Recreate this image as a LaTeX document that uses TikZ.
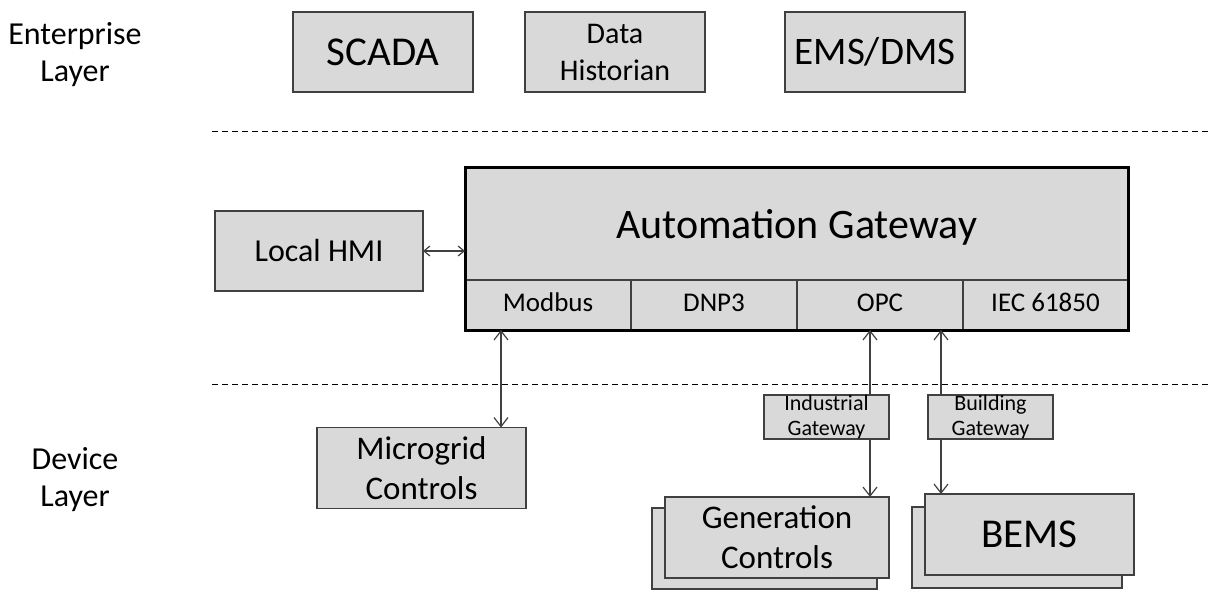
\documentclass[tikz,border=0pt]{standalone}
\usepackage{fontspec}
\setmainfont{Carlito}
\usepackage{xcolor}
\usetikzlibrary{arrows.meta,positioning,calc}

\definecolor{boxfill}{HTML}{D9D9D9}
\definecolor{boxline}{HTML}{404040}

\newcommand{\fs}[1]{\fontsize{#1}{1.2\dimexpr #1pt\relax}\selectfont}

\begin{document}
\begin{tikzpicture}[
      x=1pt, y=-1pt,
      box/.style={draw=boxline, fill=boxfill, line width=1.3pt, align=center,
                  inner sep=0pt, outer sep=0pt},
      topbox/.style={box, minimum width=180pt, minimum height=80pt},
      cell/.style={box, minimum width=166pt, minimum height=50pt,
                   font=\fs{27}, text height=18pt, text depth=5pt},
      gwbox/.style={box, minimum width=125pt, minimum height=44pt,
                    font=\fontsize{22}{25}\selectfont},
      devbox/.style={box, minimum width=210pt, minimum height=81pt},
      layerlabel/.style={align=center, font=\fontsize{32}{37}\selectfont},
      sep/.style={dashed, dash pattern=on 6pt off 4pt, line width=1pt},
      link/.style={draw=boxline, line width=1.2pt,
                   {Straight Barb[length=9pt,width=14pt]}-{Straight Barb[length=9pt,width=14pt]}},
      >={Straight Barb[length=9pt,width=14pt]}]

    \useasboundingbox (0,0) rectangle (1212,589);

    % layer names
    \node[layerlabel] (entlayer) at (75,55) {Enterprise\\Layer};
    \node[layerlabel] (devlayer) at (75,480) {Device\\Layer};

    % enterprise layer
    \node[topbox, font=\fs{41}] (scada) at (383,52) {SCADA};
    \node[topbox, font=\fontsize{30}{37}\selectfont] (historian) at (615,52)
      {Data\\Historian};
    \node[topbox, font=\fs{39}] (emsdms) at (875,52) {EMS/DMS};

    \draw[sep] (212,131) -- (1212,131);
    \draw[sep] (212,384) -- (1212,384);

    % automation gateway with its protocols
    \node[box, minimum width=663pt, minimum height=113pt, font=\fs{42},
          text depth=0pt] (agw) at (796.5,223.5) {Automation Gateway};
    \node[cell] (modbus) at (548,305) {Modbus};
    \node[cell, right=0pt of modbus] (dnp) {DNP3};
    \node[cell, right=0pt of dnp] (opc) {OPC};
    \node[cell, right=0pt of opc, minimum width=165pt] (iec) {IEC 61850};
    \draw[line width=3pt] (agw.north west) rectangle (iec.south east);

    \node[box, minimum width=208pt, minimum height=80pt, font=\fs{32}]
      (hmi) at (319,251) {Local HMI};
    \draw[link, {Straight Barb[length=6pt,width=10pt]}-{Straight Barb[length=6pt,width=10pt]}]
      (hmi.east) -- (agw.west |- hmi.east);

    % device layer
    \node[devbox, font=\fs{33}, minimum width=209pt] (micro) at (421.5,468)
      {Microgrid\\Controls};

    \node[devbox, minimum width=225pt] (genback) at (764.5,548.5) {};
    \node[devbox, minimum width=224pt, font=\fs{33}] (gen) at (777,537.5)
      {Generation\\Controls};

    \node[devbox] (bemsback) at (1017,547.5) {};
    \node[devbox, minimum width=209pt, font=\fs{41}] (bems) at (1029.5,534.5)
      {BEMS};

    \coordinate (mbA) at (501,330);
    \coordinate (opcA) at (870,330);
    \coordinate (opcB) at (941,330);
    \draw[link] (mbA) -- (mbA |- micro.north);
    \draw[link] (opcA) -- (opcA |- gen.north);
    \draw[link] (opcB) -- (opcB |- bems.north);

    \node[gwbox] (indgw) at (826.5,417) {Industrial\\Gateway};
    \node[gwbox] (bldgw) at (990.5,417) {Building\\Gateway};
  \end{tikzpicture}
\end{document}
